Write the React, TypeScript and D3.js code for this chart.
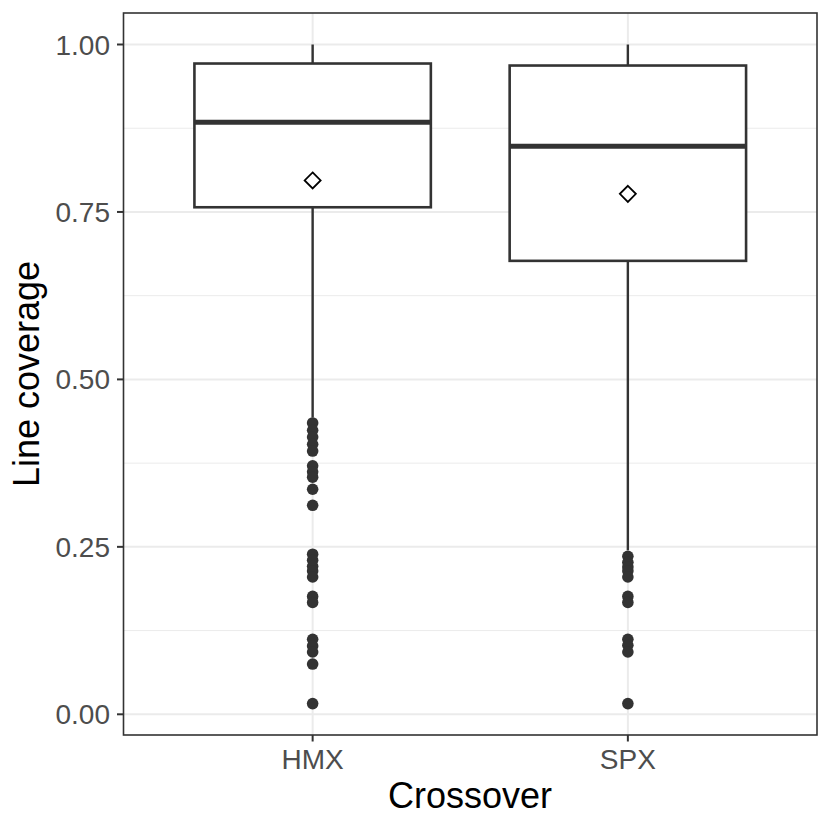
import React from "react";
import * as d3 from "d3";

const categories = ["HMX", "SPX"];
const whiskerLow = [0.443, 0.245];
const q1 = [0.757, 0.677];
const median = [0.884, 0.848];
const q3 = [0.9716, 0.9686];
const whiskerHigh = [1.0, 1.0];
const means = [0.797, 0.777];
const outliersHMX = [0.435, 0.424, 0.414, 0.403, 0.393, 0.371, 0.362, 0.354, 0.336, 0.312, 0.239, 0.23, 0.221, 0.214, 0.205, 0.176, 0.167, 0.112, 0.102, 0.093, 0.075, 0.016];
const outliersSPX = [0.236, 0.227, 0.22, 0.214, 0.205, 0.176, 0.167, 0.112, 0.103, 0.093, 0.016];
const outliers = [outliersHMX, outliersSPX];
const yTicks = [0, 0.25, 0.5, 0.75, 1.0];
const yMinor = [0.125, 0.375, 0.625, 0.875];

const W = 830, H = 830;
const panel = { left: 123.5, right: 817, top: 13, bottom: 735 };
const FONT = "'Liberation Sans', Arial, Helvetica, sans-serif";

export default function App() {
  const y = d3.scaleLinear().domain([0, 1]).range([714.3, 44.5]);
  const unit = (panel.right - panel.left) / 2.2;
  const x = d3.scalePoint<string>().domain(categories).range([panel.left + 0.6 * unit, panel.right - 0.6 * unit]);
  const cx = (i: number) => x(categories[i]) as number;
  const bw = 0.75 * unit;
  const fmt = d3.format(".2f");
  return (
    <svg width={W} height={H} style={{ position: "absolute", left: 0, top: 0, background: "#fff" }}>
      <rect x={0} y={0} width={W} height={H} fill="#fff" />
      {yMinor.map((t) => (
        <line key={"mn" + t} x1={panel.left} x2={panel.right} y1={y(t)} y2={y(t)} stroke="#ebebeb" strokeWidth={1} />
      ))}
      {yTicks.map((t) => (
        <line key={"mj" + t} x1={panel.left} x2={panel.right} y1={y(t)} y2={y(t)} stroke="#ebebeb" strokeWidth={2} />
      ))}
      {categories.map((c, i) => (
        <line key={"vg" + c} x1={cx(i)} x2={cx(i)} y1={panel.top} y2={panel.bottom} stroke="#ebebeb" strokeWidth={2} />
      ))}
      {categories.map((c, i) => (
        <g key={"box" + c}>
          <line x1={cx(i)} x2={cx(i)} y1={y(q3[i])} y2={y(whiskerHigh[i])} stroke="#333" strokeWidth={2.4} />
          <line x1={cx(i)} x2={cx(i)} y1={y(q1[i])} y2={y(whiskerLow[i])} stroke="#333" strokeWidth={2.4} />
          <rect x={cx(i) - bw / 2} y={y(q3[i])} width={bw} height={y(q1[i]) - y(q3[i])} fill="#fff" stroke="#333" strokeWidth={2.6} />
          <line x1={cx(i) - bw / 2} x2={cx(i) + bw / 2} y1={y(median[i])} y2={y(median[i])} stroke="#333" strokeWidth={5} />
          {outliers[i].map((v, k) => (
            <circle key={k} cx={cx(i)} cy={y(v)} r={5.8} fill="#333" />
          ))}
          <path
            d={`M${cx(i)},${y(means[i]) - 8} L${cx(i) + 8},${y(means[i])} L${cx(i)},${y(means[i]) + 8} L${cx(i) - 8},${y(means[i])} Z`}
            fill="#fff"
            stroke="#000"
            strokeWidth={1.8}
          />
        </g>
      ))}
      <rect x={panel.left} y={panel.top} width={panel.right - panel.left} height={panel.bottom - panel.top} fill="none" stroke="#333" strokeWidth={1.6} />
      {yTicks.map((t) => (
        <g key={"yt" + t}>
          <line x1={panel.left - 6.5} x2={panel.left} y1={y(t)} y2={y(t)} stroke="#333" strokeWidth={2} />
          <text x={110} y={y(t)} dy="0.36em" textAnchor="end" fontFamily={FONT} fontSize={28} fill="#4d4d4d">
            {fmt(t)}
          </text>
        </g>
      ))}
      {categories.map((c, i) => (
        <g key={"xt" + c}>
          <line x1={cx(i)} x2={cx(i)} y1={panel.bottom} y2={panel.bottom + 6.5} stroke="#333" strokeWidth={2} />
          <text x={cx(i)} y={769} textAnchor="middle" fontFamily={FONT} fontSize={28} fill="#4d4d4d">
            {c}
          </text>
        </g>
      ))}
      <text x={470} y={808} textAnchor="middle" fontFamily={FONT} fontSize={36} fill="#000">
        Crossover
      </text>
      <text transform={`translate(39,${(panel.top + panel.bottom) / 2}) rotate(-90)`} textAnchor="middle" fontFamily={FONT} fontSize={36} fill="#000">
        Line coverage
      </text>
    </svg>
  );
}
